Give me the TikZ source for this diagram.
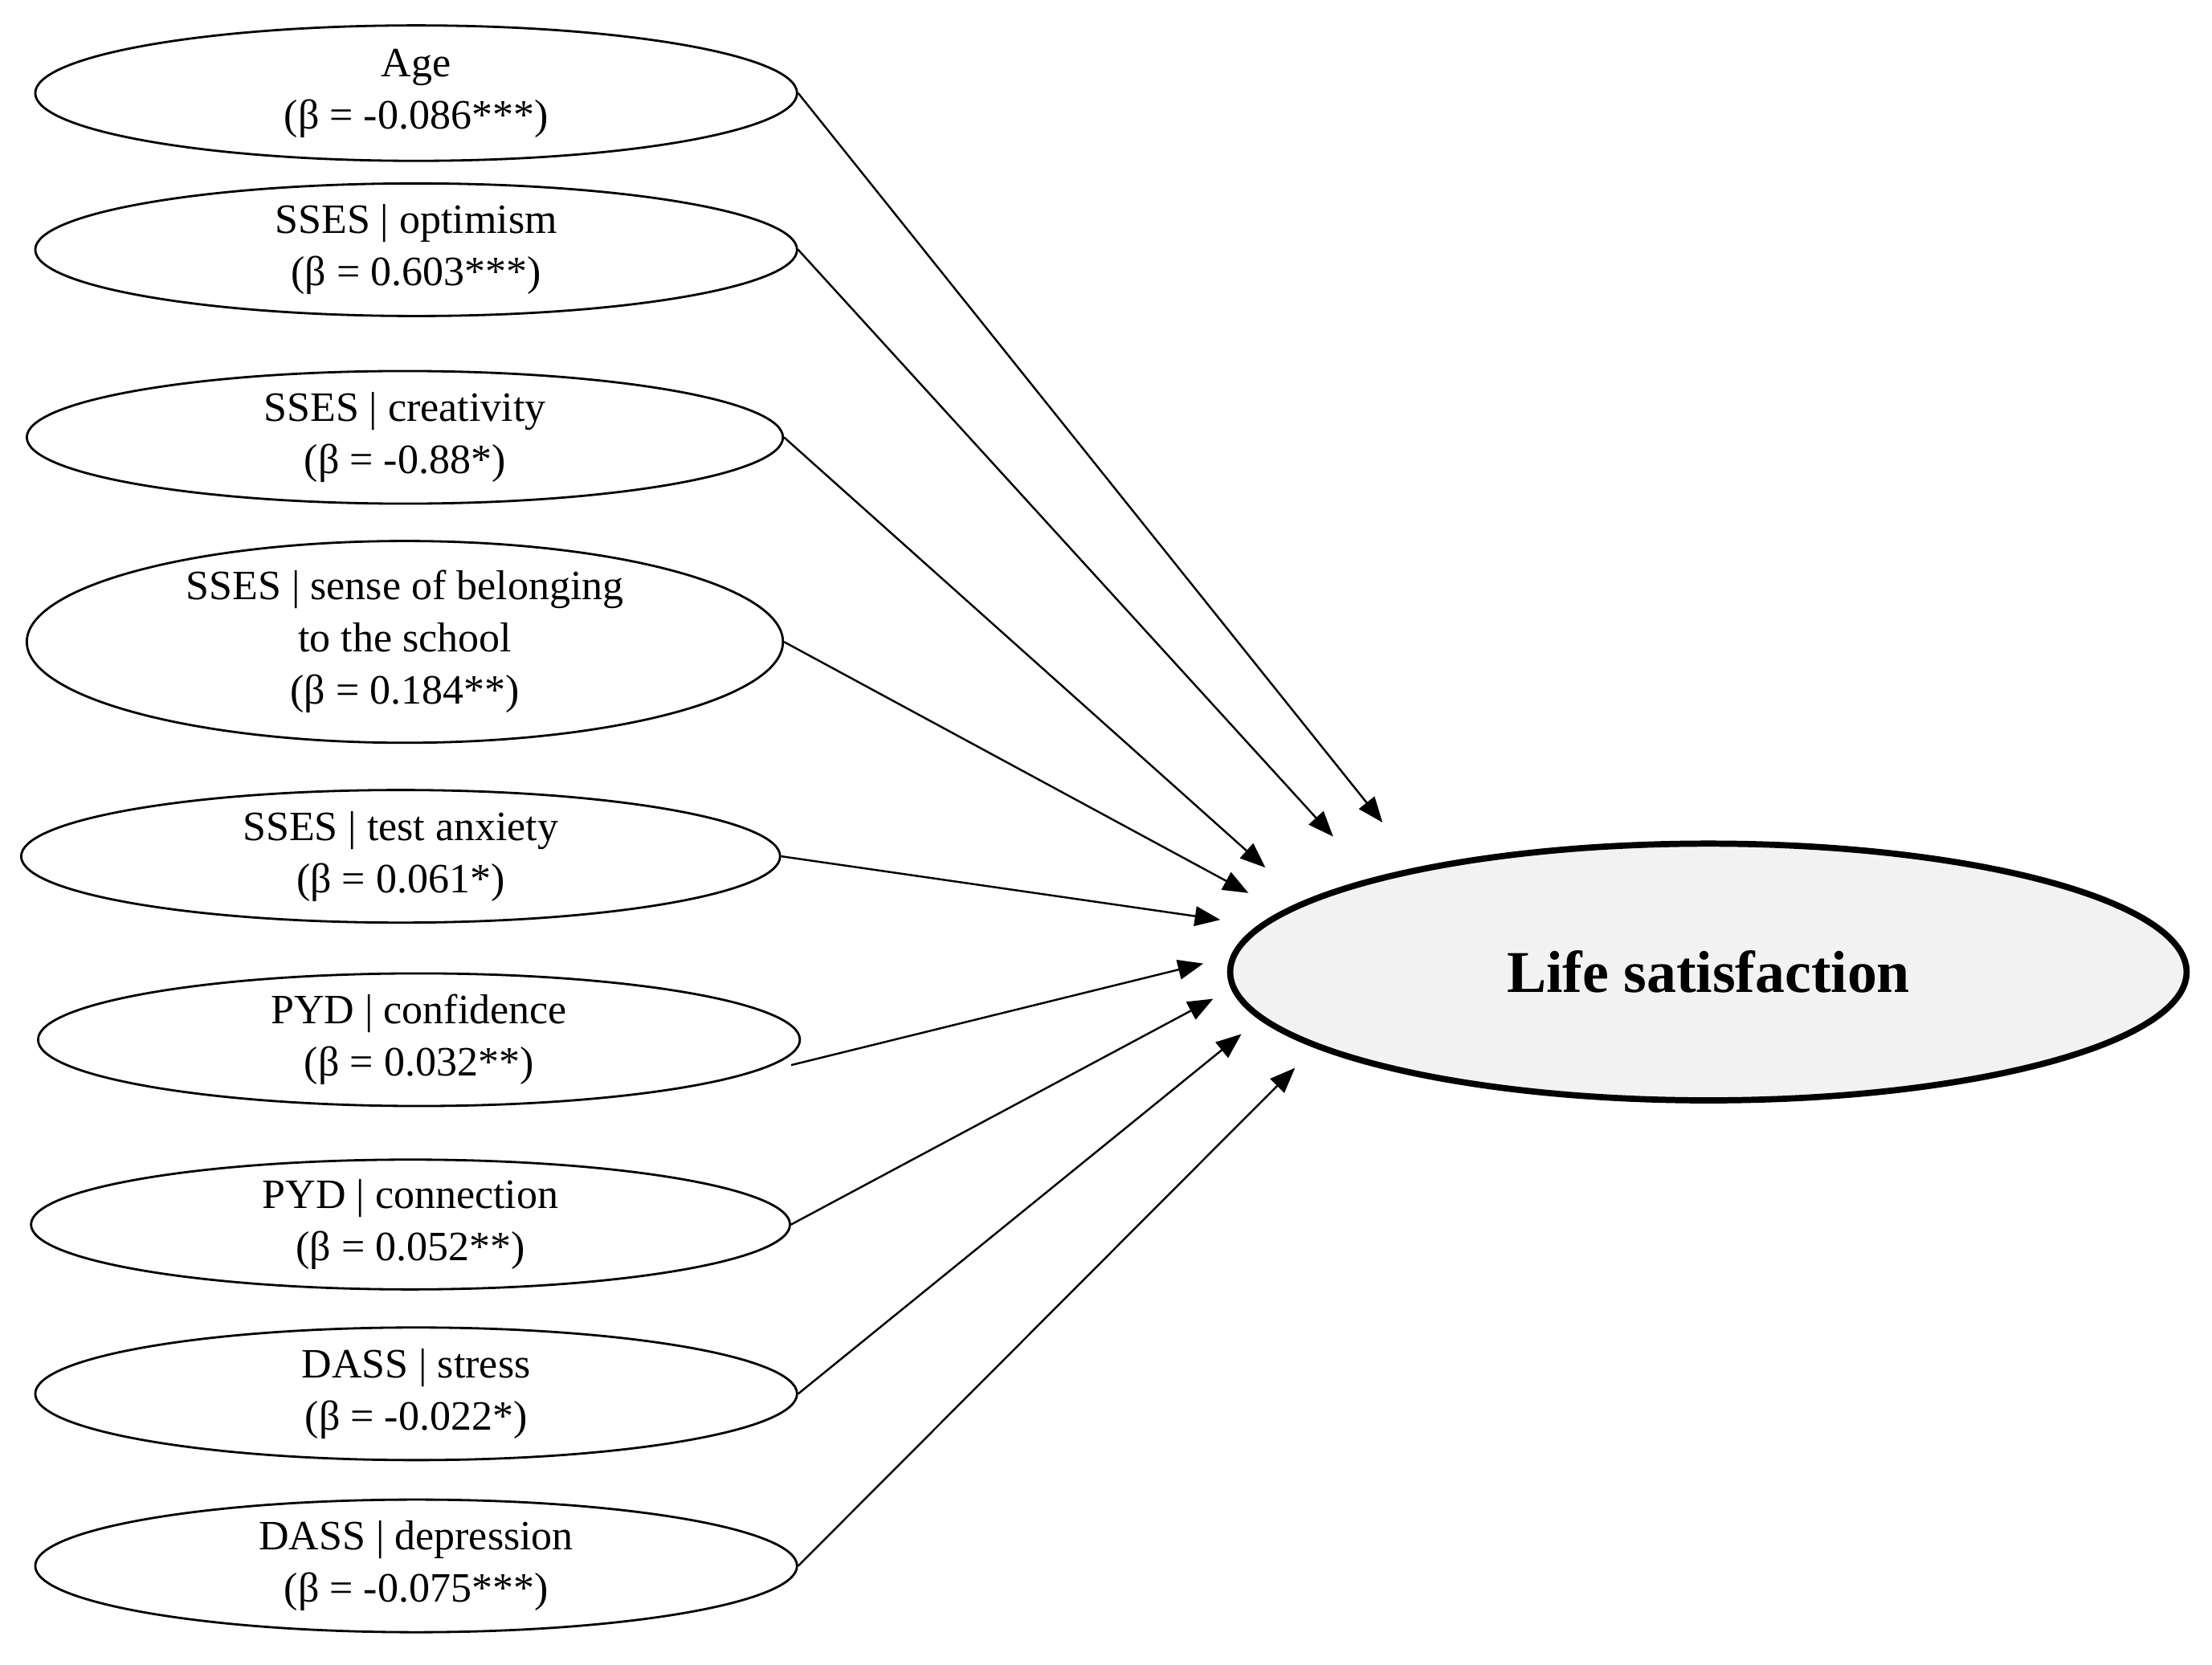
\documentclass[tikz,border=0pt]{standalone}
\usepackage{fontspec}
\setmainfont{Liberation Serif}
\usetikzlibrary{shapes.geometric,arrows.meta}
\begin{document}
\begin{tikzpicture}[x=0.5pt,y=-0.5pt,
  pred/.style={ellipse,draw,line width=0.8pt,inner sep=0pt,align=center,font=\fontsize{14.8}{18.5}\selectfont},
  arr/.style={-{Triangle[length=9pt,width=7pt]},line width=0.7pt}]
\useasboundingbox (0,0) rectangle (1568,1180);
\node[pred,minimum width=270pt,minimum height=48pt] (a) at (295,66) {Age\\(β = -0.086***)};
\node[pred,minimum width=270pt,minimum height=47pt] (b) at (295,177) {SSES | optimism\\(β = 0.603***)};
\node[pred,minimum width=268pt,minimum height=47pt] (c) at (287,310) {SSES | creativity\\(β = -0.88*)};
\node[pred,minimum width=268pt,minimum height=70pt] (d) at (287,455) {SSES | sense of belonging\\to the school\\(β = 0.184**)};
\node[pred,minimum width=269pt,minimum height=47pt] (e) at (284,607) {SSES | test anxiety\\(β = 0.061*)};
\node[pred,minimum width=270pt,minimum height=47pt] (f) at (297,737) {PYD | confidence\\(β = 0.032**)};
\node[pred,minimum width=269pt,minimum height=46pt] (g) at (291,868) {PYD | connection\\(β = 0.052**)};
\node[pred,minimum width=270pt,minimum height=47pt] (h) at (295,988) {DASS | stress\\(β = -0.022*)};
\node[pred,minimum width=270pt,minimum height=47pt] (i) at (295,1110) {DASS | depression\\(β = -0.075***)};
\node[ellipse,draw,line width=2.2pt,fill=gray!10,minimum width=339pt,minimum height=91pt,font=\fontsize{21}{24}\bfseries] (ls) at (1211,689) {Life satisfaction};
\coordinate (ta) at (980,583);
\coordinate (tb) at (945,593);
\coordinate (tc) at (897,615);
\coordinate (td) at (885,633);
\coordinate (te) at (865,652);
\coordinate (tf) at (853,683);
\coordinate (tg) at (860,708);
\coordinate (th) at (880,733);
\coordinate (ti) at (918,757);
\draw[arr] (a.east) -- (ta);
\draw[arr] (b.east) -- (tb);
\draw[arr] (c.east) -- (tc);
\draw[arr] (d.east) -- (td);
\draw[arr] (e.east) -- (te);
\draw[arr] ([shift={(-7,18)}]f.east) -- (tf);
\draw[arr] (g.east) -- (tg);
\draw[arr] (h.east) -- (th);
\draw[arr] (i.east) -- (ti);
\end{tikzpicture}
\end{document}
